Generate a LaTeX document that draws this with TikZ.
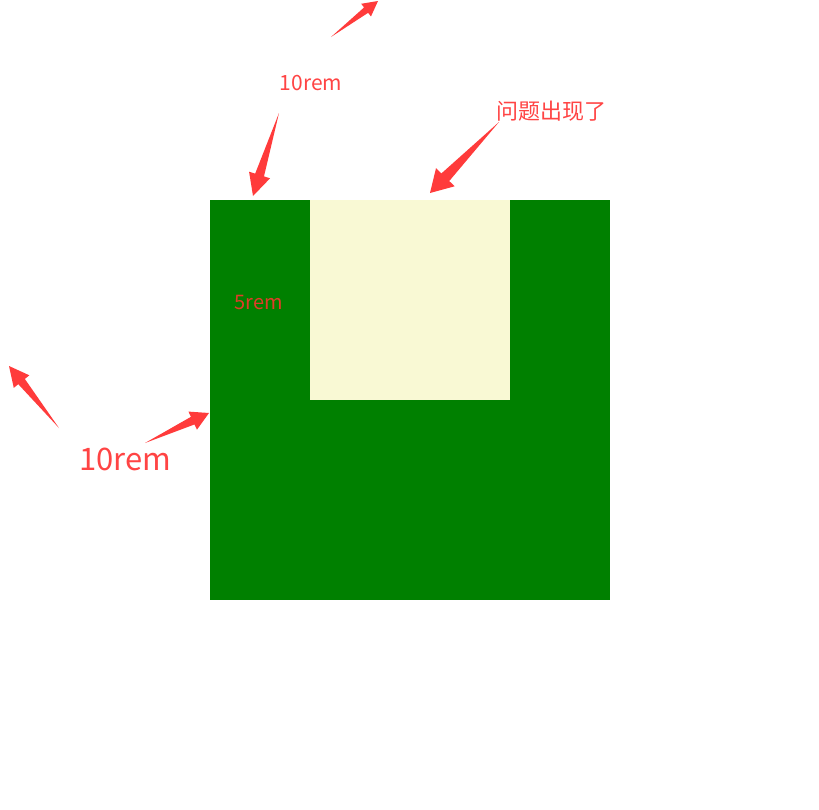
\documentclass[tikz,border=0pt]{standalone}
\usepackage{fontspec}
\setmainfont{Noto Sans CJK SC}
\usetikzlibrary{calc}
\definecolor{arrowred}{HTML}{FF3B3B}
\definecolor{labelred}{HTML}{FF4444}
\definecolor{boxgreen}{HTML}{008000}
\definecolor{boxyellow}{HTML}{F9F9D4}
\definecolor{darkred}{HTML}{E03C28}
\newcommand{\tarrow}[4]{%
  \fill[arrowred] (#1)
    -- ($($(#2)!#3pt!(#1)$)!0.42*#4pt!90:(#2)$)
    -- ($($(#2)!#3pt!(#1)$)!#4pt!90:(#2)$)
    -- (#2)
    -- ($($(#2)!#3pt!(#1)$)!#4pt!-90:(#2)$)
    -- ($($(#2)!#3pt!(#1)$)!0.42*#4pt!-90:(#2)$)
    -- cycle;}
\tikzset{lbl/.style={inner sep=0pt, text=labelred}}
\begin{document}
\begin{tikzpicture}[x=1pt,y=-1pt]
\useasboundingbox (0,0) rectangle (819,809);
\fill[white] (0,0) rectangle (819,809);
% boxes
\fill[boxgreen] (210,200) rectangle (610,600);
\fill[boxyellow] (310,200) rectangle (510,400);
% labels
\node[lbl, font=\fontsize{21}{25}\selectfont] (t1) at (311,83) {10rem};
\node[lbl, font=\fontsize{22}{26}\selectfont] (t2) at (551,111) {问题出现了};
\node[lbl, text=darkred, font=\fontsize{20}{24}\selectfont] (t3) at (259,302) {5rem};
\node[lbl, font=\fontsize{31}{36}\selectfont] (t4) at (125,459) {10rem};
% arrows
\coordinate (a1t) at (331,37);  \coordinate (a1h) at (378,1);
\coordinate (a2t) at (279,113); \coordinate (a2h) at (253,196);
\coordinate (a3t) at (499,122); \coordinate (a3h) at (430,193);
\coordinate (a4t) at (59,428);  \coordinate (a4h) at (9,366);
\coordinate (a5t) at (145,443); \coordinate (a5h) at (209,413);
\tarrow{a1t}{a1h}{15}{8}
\tarrow{a2t}{a2h}{22}{11}
\tarrow{a3t}{a3h}{22}{13}
\tarrow{a4t}{a4h}{20}{10}
\tarrow{a5t}{a5h}{18}{10}
\end{tikzpicture}
\end{document}
